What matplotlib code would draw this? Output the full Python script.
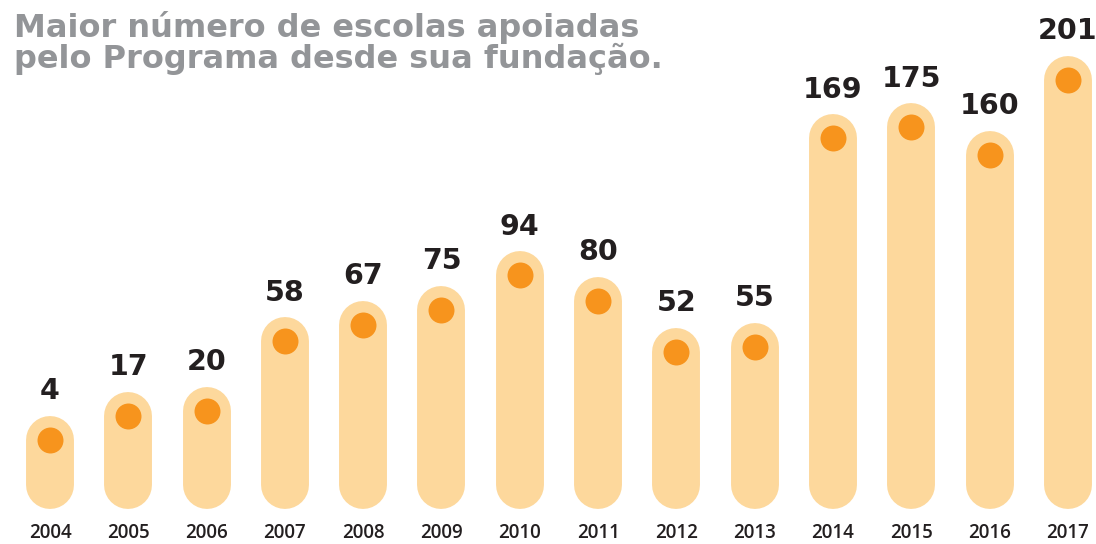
import matplotlib
matplotlib.use("Agg")
import matplotlib.pyplot as plt
import numpy as np

# dados do gráfico
anos = ["2004", "2005", "2006", "2007", "2008", "2009", "2010",
        "2011", "2012", "2013", "2014", "2015", "2016", "2017"]
escolas = [4, 17, 20, 58, 67, 75, 94, 80, 52, 55, 169, 175, 160, 201]
titulo = ["Maior número de escolas apoiadas",
          "pelo Programa desde sua fundação."]

cor_barra = "#FDD89C"
cor_ponto = "#F7941D"
cor_texto = "#231F20"
cor_titulo = "#939598"

fig = plt.figure(figsize=(10.96, 5.44), dpi=100)
ax = fig.add_axes([0, 0, 1, 1])
ax.set_xlim(-0.6386, 13.359)
ax.set_ylim(-53.1, 244.8)
ax.axis("off")

x_pos = np.arange(len(anos))
base = -21

# capsulas (linha grossa com ponta arredondada)
for x, v in zip(x_pos, escolas):
    ax.plot([x, x], [base, v], color=cor_barra, lw=34.5,
            solid_capstyle="round", zorder=1)

ax.scatter(x_pos, escolas, s=18.7 ** 2, color=cor_ponto, zorder=3,
           linewidths=0)

for x, v in zip(x_pos, escolas):
    ax.annotate(str(v), (x, v), xytext=(0, 35), textcoords="offset points",
                ha="center", va="center", fontsize=20.5, fontweight="bold",
                color=cor_texto, family="DejaVu Sans")

for x, a in zip(x_pos, anos):
    ax.text(x, 1 - 533 / 544, a, transform=ax.get_xaxis_transform(),
            ha="center", va="center", fontsize=13.5, fontweight="semibold",
            color=cor_texto, family="Open Sans")

fig.text(14 / 1096, 1 - 37 / 544, titulo[0], ha="left", va="baseline",
         fontsize=23, fontweight="bold", color=cor_titulo, family="DejaVu Sans")
fig.text(14 / 1096, 1 - 68 / 544, titulo[1], ha="left", va="baseline",
         fontsize=23, fontweight="bold", color=cor_titulo, family="DejaVu Sans")

fig.savefig("out.png", dpi=100)
